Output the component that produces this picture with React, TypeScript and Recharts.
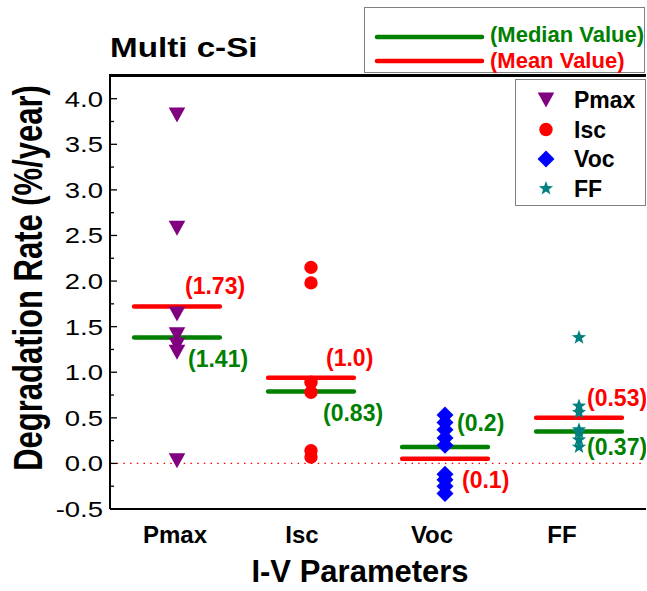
import React from 'react';
import { ScatterChart, Scatter, XAxis, YAxis, ReferenceLine, Legend, Label } from 'recharts';

// ---------- data ----------
const categories = ['Pmax', 'Isc', 'Voc', 'FF'];
const categoryPositions = [1, 2, 3, 4];
const pmaxValues = [3.82, 2.58, 1.64, 1.41, 1.3, 1.22, 0.03];
const iscValues = [2.15, 1.98, 0.89, 0.78, 0.14, 0.07];
const vocValues = [0.53, 0.45, 0.37, 0.28, 0.2, -0.12, -0.18, -0.25, -0.33];
const ffValues = [1.38, 0.63, 0.56, 0.37, 0.34, 0.26, 0.18];
const meanValues = [1.72, 0.94, 0.05, 0.5];
const medianValues = [1.38, 0.79, 0.18, 0.35];
const meanLabels = ['(1.73)', '(1.0)', '(0.1)', '(0.53)'];
const medianLabels = ['(1.41)', '(0.83)', '(0.2)', '(0.37)'];
const yMajorTicks = [-0.5, 0, 0.5, 1, 1.5, 2, 2.5, 3, 3.5, 4];
const yMinorTicks = [-0.25, 0.25, 0.75, 1.25, 1.75, 2.25, 2.75, 3.25, 3.75];
const yTickLabels = ['-0.5', '0.0', '0.5', '1.0', '1.5', '2.0', '2.5', '3.0', '3.5', '4.0'];
const yDomain = [-0.5, 4.26];
const frameTop = 4.25;
const xDomain = [0.5, 4.5];
const legendLineLabels = ['(Median Value)', '(Mean Value)'];
const titleText = 'Multi c-Si';
const xTitle = 'I-V Parameters';
const yTitle = 'Degradation Rate (%/year)';

// ---------- style ----------
const FONT = '"Liberation Sans", Arial, Helvetica, sans-serif';
const GREEN = '#008000';
const RED = '#FF0000';
const seriesColors = ['#800080', '#FF0000', '#0000FF', '#008080'];
const HALF = 0.32;
const xLabelDx = [-2, -9, -13, -17];
const meanLabelOffsets = [[8, -13], [15, -12], [17, 29], [8, -12]];
const medianLabelOffsets = [[11, 29], [12, 30], [12, -16], [8, 23]];
const MARGIN = { top: 75, right: 1, bottom: 0, left: 0 };
const CHART_W = 647;
const CHART_H = 591;
const Y_AXIS_W = 110;

const allYTicks = [...yMajorTicks, ...yMinorTicks].sort((a, b) => a - b);

// ---------- marker shapes ----------
const TriangleDown = ({ cx, cy, fill }: any) => (
  <polygon points={`${cx - 8.3},${cy - 7.5} ${cx + 8.3},${cy - 7.5} ${cx},${cy + 7.5}`} fill={fill} />
);
const Dot = ({ cx, cy, fill }: any) => <circle cx={cx} cy={cy} r={6.7} fill={fill} />;
const Diamond = ({ cx, cy, fill }: any) => (
  <polygon points={`${cx},${cy - 8.5} ${cx + 8.5},${cy} ${cx},${cy + 8.5} ${cx - 8.5},${cy}`} fill={fill} />
);
const Star = ({ cx, cy, fill }: any) => {
  const pts: string[] = [];
  for (let k = 0; k < 10; k++) {
    const a = ((-90 + k * 36) * Math.PI) / 180;
    const r = k % 2 === 0 ? 7.5 : 3.1;
    pts.push(`${cx + r * Math.cos(a)},${cy + r * Math.sin(a)}`);
  }
  return <polygon points={pts.join(' ')} fill={fill} />;
};
const shapes = [TriangleDown, Dot, Diamond, Star];
const seriesValues = [pmaxValues, iscValues, vocValues, ffValues];

// ---------- ticks / labels ----------
const XTick = ({ x, y, payload }: any) => {
  const i = categoryPositions.indexOf(payload.value);
  if (i < 0) return null;
  return (
    <text x={x + xLabelDx[i]} y={y + 34} textAnchor="middle" fontFamily={FONT} fontWeight="bold" fontSize={24} fill="#000">
      {categories[i]}
    </text>
  );
};

const YTick = ({ x, y, payload }: any) => {
  const v = payload.value;
  const mi = yMajorTicks.indexOf(v);
  const major = mi >= 0;
  return (
    <g>
      <line x1={x} x2={x + (major ? 7 : 4)} y1={y} y2={y} stroke="#000" strokeWidth={1.3} />
      {major && (
        <text transform={`translate(${x - 7},${y + 8}) scale(1.25,1)`} textAnchor="end" fontFamily={FONT} fontSize={22} fill="#000">
          {yTickLabels[mi]}
        </text>
      )}
    </g>
  );
};

const YTitle = (props: any) => {
  const vb = props.viewBox;
  const cx = vb.x + 42;
  const cy = vb.y + vb.height / 2 - 14;
  return (
    <text transform={`translate(${cx},${cy}) rotate(-90) scale(1,1.3)`} textAnchor="middle" fontFamily={FONT} fontWeight="bold" fontSize={31} fill="#000">
      {yTitle}
    </text>
  );
};

const XTitle = (props: any) => {
  const vb = props.viewBox;
  return (
    <text x={vb.x + vb.width / 2 - 18} y={vb.y + 73} textAnchor="middle" fontFamily={FONT} fontWeight="bold" fontSize={31} fill="#000">
      {xTitle}
    </text>
  );
};

const makeLabelShape = (texts: string[], offsets: number[][], color: string) => (p: any) => {
  const i = categoryPositions.indexOf(p.payload.x);
  if (i < 0) return <g />;
  return (
    <text x={p.cx + offsets[i][0]} y={p.cy + offsets[i][1]} fontFamily={FONT} fontWeight="bold" fontSize={23} fill={color}>
      {texts[i]}
    </text>
  );
};

const renderLegend = (props: any) => {
  const payload = (props.payload || [])
    .filter((p: any) => categories.includes(p.value))
    .slice()
    .sort((a: any, b: any) => categories.indexOf(a.value) - categories.indexOf(b.value));
  return (
    <svg width={CHART_W} height={210} style={{ display: 'block' }}>
      <text transform="translate(110,57) scale(1.23,1)" fontFamily={FONT} fontWeight="bold" fontSize={27} fill="#000">
        {titleText}
      </text>
      <rect x={364.5} y={7.5} width={280} height={65} fill="#fff" stroke="#808080" strokeWidth={1} />
      <line x1={377} x2={482} y1={37} y2={37} stroke={GREEN} strokeWidth={4.5} strokeLinecap="round" />
      <line x1={377} x2={482} y1={61} y2={61} stroke={RED} strokeWidth={4.5} strokeLinecap="round" />
      <text x={490} y={42} fontFamily={FONT} fontWeight="bold" fontSize={22} fill={GREEN}>{legendLineLabels[0]}</text>
      <text x={490} y={68} fontFamily={FONT} fontWeight="bold" fontSize={22} fill={RED}>{legendLineLabels[1]}</text>
      <rect x={515.5} y={79.5} width={130} height={126} fill="#fff" stroke="#808080" strokeWidth={1} />
      {payload.map((p: any, k: number) => {
        const i = categories.indexOf(p.value);
        const Shape = shapes[i];
        const cy = 100 + k * 29.5;
        return (
          <g key={p.value}>
            <Shape cx={546} cy={cy} fill={seriesColors[i]} />
            <text x={574} y={cy + 8} fontFamily={FONT} fontWeight="bold" fontSize={23} fill="#000">{p.value}</text>
          </g>
        );
      })}
    </svg>
  );
};

export default function App() {
  return (
    <div style={{ position: 'absolute', left: 0, top: 0, width: CHART_W, height: CHART_H, background: '#fff' }}>
      <ScatterChart width={CHART_W} height={CHART_H} margin={MARGIN}>
        <XAxis
          dataKey="x"
          type="number"
          domain={xDomain}
          allowDataOverflow
          ticks={categoryPositions}
          interval={0}
          tick={<XTick />}
          tickLine={false}
          tickSize={0}
          tickMargin={0}
          height={82}
          axisLine={{ stroke: '#000', strokeWidth: 2 }}
        >
          <Label content={<XTitle />} />
        </XAxis>
        <YAxis
          dataKey="y"
          type="number"
          domain={yDomain}
          allowDataOverflow
          ticks={allYTicks}
          interval={0}
          tick={<YTick />}
          tickLine={false}
          tickSize={0}
          tickMargin={0}
          width={Y_AXIS_W}
          axisLine={{ stroke: '#000', strokeWidth: 2 }}
        >
          <Label content={<YTitle />} />
        </YAxis>
        <ReferenceLine y={frameTop} stroke="#000" strokeWidth={2} ifOverflow="visible" />
        <ReferenceLine y={0} stroke={RED} strokeWidth={1.3} strokeDasharray="1.5 5.2" />
        {categories.map((name, i) => (
          <Scatter
            key={name}
            name={name}
            data={seriesValues[i].map((v) => ({ x: categoryPositions[i], y: v }))}
            fill={seriesColors[i]}
            shape={(p: any) => {
              const S = shapes[i];
              return <S cx={p.cx} cy={p.cy} fill={seriesColors[i]} />;
            }}
            isAnimationActive={false}
          />
        ))}
        {categoryPositions.map((c, i) => (
          <ReferenceLine
            key={'med' + i}
            segment={[{ x: c - HALF, y: medianValues[i] }, { x: c + HALF, y: medianValues[i] }]}
            stroke={GREEN}
            strokeWidth={4.5}
            strokeLinecap="round"
          />
        ))}
        {categoryPositions.map((c, i) => (
          <ReferenceLine
            key={'mean' + i}
            segment={[{ x: c - HALF, y: meanValues[i] }, { x: c + HALF, y: meanValues[i] }]}
            stroke={RED}
            strokeWidth={4.5}
            strokeLinecap="round"
          />
        ))}
        <Scatter
          name="meanLabels"
          legendType="none"
          data={categoryPositions.map((c, i) => ({ x: c, y: meanValues[i] }))}
          shape={makeLabelShape(meanLabels, meanLabelOffsets, RED)}
          isAnimationActive={false}
        />
        <Scatter
          name="medianLabels"
          legendType="none"
          data={categoryPositions.map((c, i) => ({ x: c, y: medianValues[i] }))}
          shape={makeLabelShape(medianLabels, medianLabelOffsets, GREEN)}
          isAnimationActive={false}
        />
        <Legend
          layout="vertical"
          align="center"
          verticalAlign="middle"
          content={renderLegend}
          wrapperStyle={{ top: 0, left: 0, width: CHART_W, height: 210 }}
        />
      </ScatterChart>
      <div
        style={{
          position: 'absolute',
          left: MARGIN.left + Y_AXIS_W - 1,
          top: MARGIN.top - 1,
          width: CHART_W - MARGIN.right - Y_AXIS_W + 1,
          height: 0,
          borderTop: '2px solid #000',
          zIndex: 10,
          pointerEvents: 'none',
        }}
      />
    </div>
  );
}
